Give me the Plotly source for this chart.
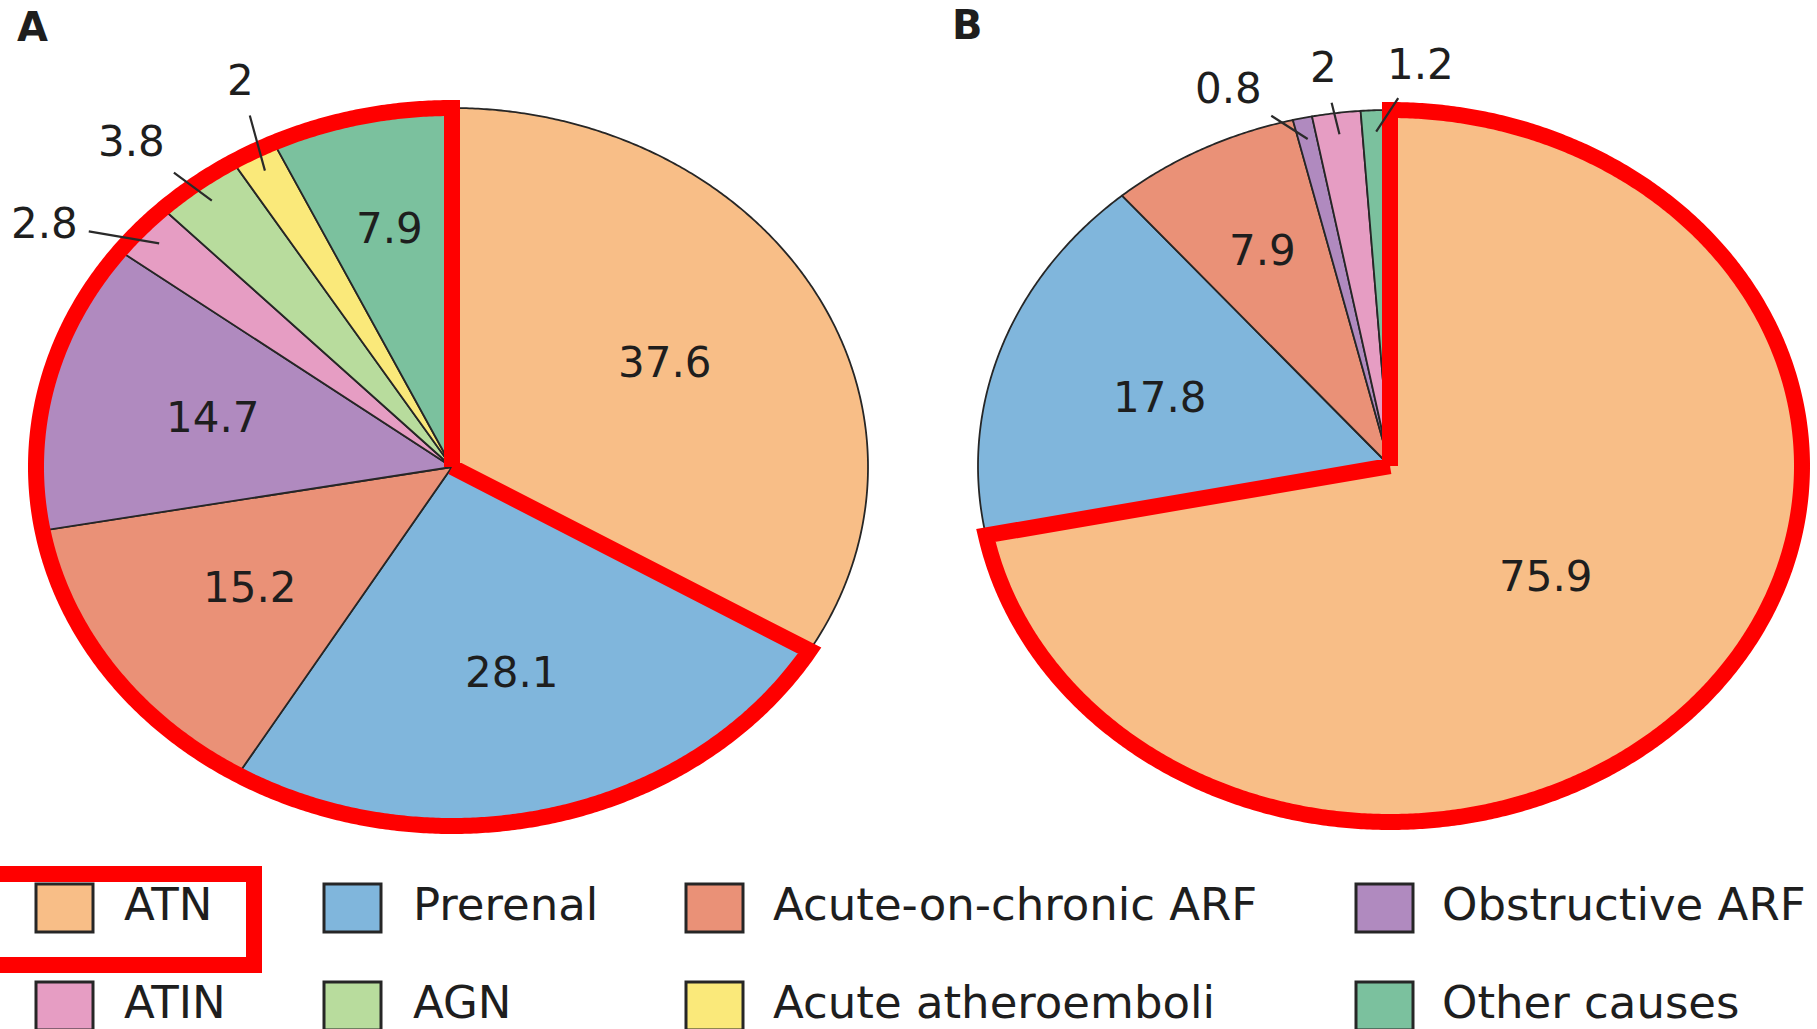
import numpy as np
import plotly.graph_objects as go

# ---------------- data ----------------
CATEGORIES = ["ATN", "Prerenal", "Acute-on-chronic ARF", "Obstructive ARF",
              "ATIN", "AGN", "Acute atheroemboli", "Other causes"]
VALUES_A = [37.6, 28.1, 15.2, 14.7, 2.8, 3.8, 2, 7.9]
VALUES_B = [75.9, 17.8, 7.9, 0.8, 2, 0, 0, 1.2]
HIGHLIGHT_A = ["Prerenal", "Acute-on-chronic ARF", "Obstructive ARF", "ATIN",
               "AGN", "Acute atheroemboli", "Other causes"]
HIGHLIGHT_B = ["ATN"]
LEGEND_HIGHLIGHT = ["ATN"]
PANEL_LABELS = ["A", "B"]

# ---------------- style ----------------
COLORS = {
    "ATN": "#F8BE87",
    "Prerenal": "#80B6DC",
    "Acute-on-chronic ARF": "#EA9177",
    "Obstructive ARF": "#B08ABF",
    "ATIN": "#E69DC3",
    "AGN": "#B8DC9D",
    "Acute atheroemboli": "#FAE97A",
    "Other causes": "#7BC19E",
}
EDGE = "#262626"
RED = "#FF0000"
TXT = "#1e1e1e"
FONT = "DejaVu Sans"

W, H = 1817, 1029
PIES = [
    dict(values=VALUES_A, highlight=HIGHLIGHT_A, cx=452, cy=467, rx=416, ry=359,
         xdom=(0.0, 0.5), xa="x", ya="y", label_px=(32, 27),
         out_r=1.19, out_gap=15.0, out_shift=-2.0),
    dict(values=VALUES_B, highlight=HIGHLIGHT_B, cx=1390, cy=466, rx=412, ry=356,
         xdom=(0.5, 1.0), xa="x2", ya="y2", label_px=(968, 25),
         out_r=1.13, out_gap=12.0, out_shift=-1.0),
]


def arc(a0, a1, r=1.0):
    n = max(2, int(abs(a1 - a0) / 0.4) + 2)
    t = np.radians(np.linspace(a0, a1, n))
    return list(r * np.sin(t)), list(r * np.cos(t))


def inside_radius(f):
    if f < 0.1:
        return 0.68
    if f > 0.5:
        return 0.49
    return 0.59


fig = go.Figure()
annotations = []
shapes = []

for pie, plabel in zip(PIES, PANEL_LABELS):
    vals = np.array(pie["values"], dtype=float)
    total = vals.sum()
    fr = vals / total
    starts = np.concatenate([[0], np.cumsum(fr)[:-1]]) * 360.0
    ends = np.cumsum(fr) * 360.0

    # slices
    for i, cat in enumerate(CATEGORIES):
        if vals[i] <= 0:
            continue
        ax_, ay_ = arc(starts[i], ends[i])
        fig.add_trace(go.Scatter(
            x=[0] + ax_ + [0], y=[0] + ay_ + [0], mode="lines", fill="toself",
            fillcolor=COLORS[cat], line=dict(color=EDGE, width=1.8, simplify=False),
            name=cat, showlegend=False, hoverinfo="name",
            xaxis=pie["xa"], yaxis=pie["ya"]))

    # highlight outline
    idx = [CATEGORIES.index(c) for c in pie["highlight"] if vals[CATEGORIES.index(c)] > 0]
    h0 = min(starts[i] for i in idx)
    h1 = max(ends[i] for i in idx)
    hx, hy = arc(h0, h1)
    fig.add_trace(go.Scatter(
        x=[0] + hx + [0], y=[0] + hy + [0], mode="lines",
        line=dict(color=RED, width=16, simplify=False), showlegend=False,
        hoverinfo="skip", xaxis=pie["xa"], yaxis=pie["ya"]))

    xref = pie["xa"]
    yref = pie["ya"]
    outside = []
    for i, cat in enumerate(CATEGORIES):
        if vals[i] <= 0:
            continue
        mid = (starts[i] + ends[i]) / 2
        txt = f"{vals[i]:g}"
        if fr[i] >= 0.04:
            r = inside_radius(fr[i])
            annotations.append(dict(
                x=r * np.sin(np.radians(mid)), y=r * np.cos(np.radians(mid)),
                xref=xref, yref=yref, text=txt, showarrow=False,
                xanchor="center", yanchor="middle",
                font=dict(family=FONT, size=42, color=TXT)))
        else:
            outside.append((mid, txt))
    # outside labels, spread apart
    if outside:
        outside.sort()
        mean = np.mean([m for m, _ in outside])
        n = len(outside)
        for k, (mid, txt) in enumerate(outside):
            ang = mean + (k - (n - 1) / 2) * pie["out_gap"] + pie["out_shift"]
            rp, rt = 0.94, pie["out_r"]
            annotations.append(dict(
                x=rp * np.sin(np.radians(mid)), y=rp * np.cos(np.radians(mid)),
                ax=rt * np.sin(np.radians(ang)), ay=rt * np.cos(np.radians(ang)),
                xref=xref, yref=yref, axref=xref, ayref=yref,
                xanchor="center", yanchor="middle",
                text=txt, showarrow=True, arrowhead=0, arrowwidth=2.2,
                arrowcolor="#2a2a2a", startstandoff=9, standoff=0,
                font=dict(family=FONT, size=42, color=TXT)))

    # panel letter
    annotations.append(dict(
        x=pie["label_px"][0] / W, y=1 - pie["label_px"][1] / H, xref="paper",
        yref="paper", text=f"<b>{plabel}</b>", showarrow=False,
        xanchor="center", yanchor="middle",
        font=dict(family=FONT, size=40, color=TXT)))

# ---------------- legend (custom) ----------------
SW_X = [36, 324, 686, 1356]
TX_X = [122, 411, 771, 1440]
ROW_Y = [884, 982]
SW_W, SW_H = 57, 48
for j, cat in enumerate(CATEGORIES):
    row, col = divmod(j, 4)
    x0, y0 = SW_X[col], ROW_Y[row]
    shapes.append(dict(
        type="rect", xref="paper", yref="paper",
        x0=x0 / W, x1=(x0 + SW_W) / W, y0=1 - y0 / H, y1=1 - (y0 + SW_H) / H,
        fillcolor=COLORS[cat], line=dict(color=EDGE, width=3)))
    annotations.append(dict(
        x=TX_X[col] / W, y=1 - (y0 + SW_H / 2 - 4) / H, xref="paper", yref="paper",
        xanchor="left", yanchor="middle", text=cat, showarrow=False,
        font=dict(family=FONT, size=45, color=TXT)))
    if cat in LEGEND_HIGHLIGHT:
        shapes.append(dict(
            type="rect", xref="paper", yref="paper",
            x0=-10 / W, x1=254 / W, y0=1 - 874 / H, y1=1 - 965 / H,
            line=dict(color=RED, width=16), fillcolor="rgba(0,0,0,0)"))

layout_axes = {}
for k, pie in enumerate(PIES):
    sfx = "" if k == 0 else str(k + 1)
    xr = [(pie["xdom"][0] * W - pie["cx"]) / pie["rx"], (pie["xdom"][1] * W - pie["cx"]) / pie["rx"]]
    yr = [(pie["cy"] - H) / pie["ry"], pie["cy"] / pie["ry"]]
    layout_axes["xaxis" + sfx] = dict(domain=list(pie["xdom"]), range=xr, visible=False,
                                      fixedrange=True)
    layout_axes["yaxis" + sfx] = dict(domain=[0, 1], range=yr, visible=False,
                                      fixedrange=True)

fig.update_layout(
    width=W, height=H, margin=dict(l=0, r=0, t=0, b=0),
    paper_bgcolor="white", plot_bgcolor="white",
    showlegend=False, annotations=annotations, shapes=shapes,
    **layout_axes)

fig.write_html("out.html", config={"displayModeBar": False},
               post_script="document.body.style.margin='0';document.body.style.overflow='hidden';")
